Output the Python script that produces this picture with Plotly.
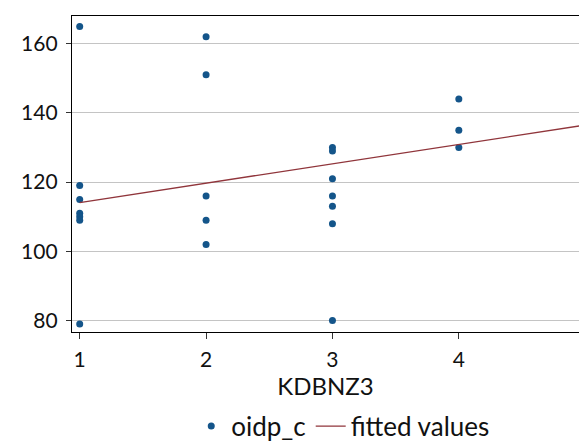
import plotly.graph_objects as go

# data
x1 = [1, 1, 1, 1, 1, 1, 1]
y1 = [165, 119, 115, 111, 110, 109, 79]
x2 = [2, 2, 2, 2, 2]
y2 = [162, 151, 116, 109, 102]
x3 = [3, 3, 3, 3, 3, 3, 3]
y3 = [130, 129, 121, 116, 113, 108, 80]
x4 = [4, 4, 4]
y4 = [144, 135, 130]
kdbnz3 = x1 + x2 + x3 + x4
oidp_c = y1 + y2 + y3 + y4

fit_x = [1, 5]
fit_y = [114.1, 136.5]

x_ticks = [1, 2, 3, 4]
y_ticks = [80, 100, 120, 140, 160]
x_range = [0.939, 4.951]
y_range = [76.7, 168.0]

FONT = "Lato"
NAVY = "#14558a"
MAROON = "#90353b"

fig = go.Figure()
fig.add_trace(go.Scatter(
    x=kdbnz3, y=oidp_c, mode="markers", name="oidp_c",
    marker=dict(color=NAVY, size=7, line=dict(width=0)),
))
fig.add_trace(go.Scatter(
    x=fit_x, y=fit_y, mode="lines", name="fitted values",
    line=dict(color=MAROON, width=1.3),
))

fig.update_layout(
    width=579, height=442,
    margin=dict(l=72, r=0, t=16, b=110, autoexpand=False),
    paper_bgcolor="white", plot_bgcolor="white",
    font=dict(family=FONT, size=21, color="#111111"),
    showlegend=True,
    legend=dict(
        orientation="h", x=0.535, xanchor="center", y=-0.298, yanchor="middle",
        font=dict(size=26), itemwidth=30, tracegroupgap=0,
        bgcolor="rgba(0,0,0,0)",
    ),
    xaxis=dict(
        range=x_range, tickvals=x_ticks, showgrid=False, zeroline=False,
        showline=True, linecolor="black", linewidth=1.3, mirror=True,
        ticks="outside", ticklen=6, tickwidth=1.3, tickcolor="#333333",
        tickfont=dict(size=21), ticklabelstandoff=3, automargin=False,
        title=dict(text="KDBNZ3", font=dict(size=24), standoff=0),
    ),
    yaxis=dict(
        range=y_range, tickvals=y_ticks, showgrid=True, gridcolor="#c4c4c4",
        gridwidth=1.2, zeroline=False,
        showline=True, linecolor="black", linewidth=1.3,
        ticks="outside", ticklen=5, tickwidth=1.3, tickcolor="#333333",
        tickfont=dict(size=21), ticklabelstandoff=4, automargin=False,
    ),
)

# tick label "5" sits just past the visible right edge
fig.add_annotation(
    text="5", xref="paper", yref="paper",
    x=(5 - x_range[0]) / (x_range[1] - x_range[0]), y=0,
    yshift=-29, showarrow=False, xanchor="center", yanchor="middle",
    font=dict(size=21),
)

fig.write_html("out.html", config={"displayModeBar": False},
               post_script="document.body.style.margin='0';")
